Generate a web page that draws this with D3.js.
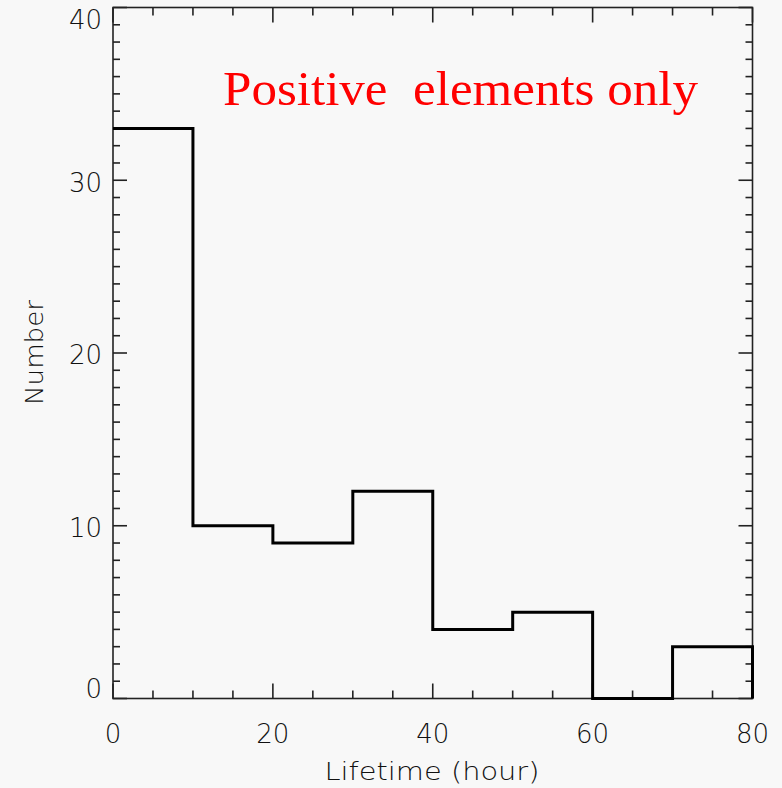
<!DOCTYPE html>
<html>
<head>
<meta charset="utf-8">
<script src="https://cdn.jsdelivr.net/npm/d3@7"></script>
<style>
  html, body { margin: 0; padding: 0; background: #f8f8f8; }
  svg { display: block; }
  text { font-family: "DejaVu Sans", sans-serif; font-weight: 200; fill: #111; }
</style>
</head>
<body>
<div id="vis"></div>
<script>
// histogram of lifetimes, 10 hour bins
var binEdges = [0, 10, 20, 30, 40, 50, 60, 70, 80],
    counts = [33, 10, 9, 12, 4, 5, 0, 3],
    xTicks = [0, 20, 40, 60, 80],
    yTicks = [0, 10, 20, 30, 40];

var W = 782, H = 788,
    pl = 113, pr = 752.5, pt = 7.5, pb = 698.5;

var x = d3.scaleLinear().domain([0, 80]).range([pl, pr]),
    y = d3.scaleLinear().domain([0, 40]).range([pb, pt]);

var svg = d3.select("#vis").append("svg")
    .attr("width", W)
    .attr("height", H);

// minor + major ticks on all four sides (IDL style)
var g = svg.append("g").attr("stroke", "#222").attr("stroke-width", 1.6);

d3.range(0, 81, 5).forEach(function(v) {
  var len = v % 20 === 0 ? 15 : 8;
  g.append("line").attr("x1", x(v)).attr("x2", x(v)).attr("y1", pb).attr("y2", pb - len);
  g.append("line").attr("x1", x(v)).attr("x2", x(v)).attr("y1", pt).attr("y2", pt + len);
});
d3.range(0, 41, 1).forEach(function(v) {
  var len = v % 10 === 0 ? 14 : 7;
  g.append("line").attr("y1", y(v)).attr("y2", y(v)).attr("x1", pl).attr("x2", pl + len);
  g.append("line").attr("y1", y(v)).attr("y2", y(v)).attr("x1", pr).attr("x2", pr - len);
});

g.append("rect")
    .attr("x", pl).attr("y", pt)
    .attr("width", pr - pl).attr("height", pb - pt)
    .attr("fill", "none");

// tick labels
svg.selectAll(".xl")
    .data(xTicks)
  .enter().append("text")
    .attr("x", function(d) { return x(d); })
    .attr("y", 743)
    .attr("text-anchor", "middle")
    .attr("font-size", 26)
    .text(function(d) { return d; });

svg.selectAll(".yl")
    .data(yTicks)
  .enter().append("text")
    .attr("x", 102)
    .attr("y", function(d) { return Math.max(20, Math.min(689, y(d) + 2)); })
    .attr("dy", "0.36em")
    .attr("text-anchor", "end")
    .attr("font-size", 26)
    .text(function(d) { return d; });

// axis titles
svg.append("text")
    .attr("x", 432).attr("y", 780)
    .attr("text-anchor", "middle")
    .attr("font-size", 24)
    .attr("textLength", 215)
    .attr("lengthAdjust", "spacingAndGlyphs")
    .text("Lifetime (hour)");

svg.append("text")
    .attr("transform", "translate(43,352.5) rotate(-90)")
    .attr("text-anchor", "middle")
    .attr("font-size", 24)
    .attr("textLength", 105)
    .attr("lengthAdjust", "spacingAndGlyphs")
    .text("Number");

// step outline
var pts = [];
counts.forEach(function(c, i) {
  pts.push([binEdges[i], c]);
  pts.push([binEdges[i + 1], c]);
});
pts.push([80, 0]);

svg.append("path")
    .datum(pts)
    .attr("fill", "none")
    .attr("stroke", "#000")
    .attr("stroke-width", 3)
    .attr("d", d3.line().x(function(d) { return x(d[0]); }).y(function(d) { return y(d[1]); }));

svg.append("text")
    .attr("x", 223).attr("y", 105)
    .attr("font-size", 48)
    .attr("textLength", 475)
    .attr("lengthAdjust", "spacingAndGlyphs")
    .style("font-family", "'Liberation Serif', serif")
    .style("font-weight", "normal")
    .style("fill", "#ff0000")
    .style("white-space", "pre")
    .text("Positive  elements only");
</script>
</body>
</html>
